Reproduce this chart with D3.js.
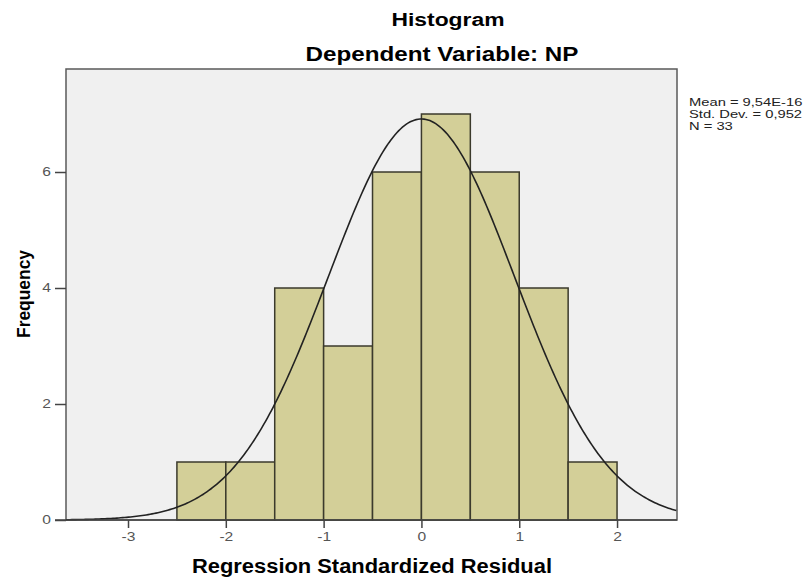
<!DOCTYPE html>
<html>
<head>
<meta charset="utf-8">
<script src="https://cdn.jsdelivr.net/npm/d3@7"></script>
<style>
  body { margin: 0; background: #fff; }
  text { font-family: "Liberation Sans", Arial, sans-serif; }
</style>
</head>
<body>
<svg width="812" height="578"></svg>
<script>
// bins of the residual histogram (lower edge, upper edge, count)
var binStart = [-2.5, -2, -1.5, -1, -0.5, 0, 0.5, 1, 1.5];
var binEnd   = [-2, -1.5, -1, -0.5, 0, 0.5, 1, 1.5, 2];
var counts   = [1, 1, 4, 3, 6, 7, 6, 4, 1];

var xTicks = [-3, -2, -1, 0, 1, 2];
var yTicks = [0, 2, 4, 6];

var mean = 9.54e-16, sd = 0.952, n = 33, binWidth = 0.5;
var statLines = ["Mean = 9,54E-16", "Std. Dev. = 0,952", "N = 33"];

var svg = d3.select("svg"),
    margin = {top: 69, right: 135, bottom: 58, left: 66},
    w = +svg.attr("width") - margin.left - margin.right,
    h = +svg.attr("height") - margin.top - margin.bottom;

var x = d3.scaleLinear().domain([-3.634, 2.613]).range([0, w]);
var y = d3.scaleLinear().domain([0, 7.776]).range([h, 0]);

// the source picture is stretched sideways, so widen text the same way
function widen(sel, f) {
	sel.each(function() {
		var len = this.getComputedTextLength();
		d3.select(this).attr("textLength", len * f).attr("lengthAdjust", "spacingAndGlyphs");
	});
}

var g = svg.append("g").attr("transform", "translate(" + margin.left + "," + margin.top + ")");

g.append("rect")
	.attr("width", w).attr("height", h)
	.attr("fill", "#f0f0f0")
	.attr("stroke", "#5a5a5a").attr("stroke-width", 1.5);

g.selectAll(".bar")
	.data(counts)
	.enter().append("rect")
	.attr("class", "bar")
	.attr("x", function(d, i) { return x(binStart[i]); })
	.attr("width", function(d, i) { return x(binEnd[i]) - x(binStart[i]); })
	.attr("y", function(d) { return y(d); })
	.attr("height", function(d) { return h - y(d); })
	.attr("fill", "#d3cf98")
	.attr("stroke", "#3b3a2c").attr("stroke-width", 1.5);

// normal curve from the stated mean / sd / N
var curvePts = d3.range(x.domain()[0], x.domain()[1] + 0.001, 0.02).map(function(v) {
	var z = (v - mean) / sd;
	return {x: v, y: n * binWidth * Math.exp(-0.5 * z * z) / (sd * Math.sqrt(2 * Math.PI))};
});
var line = d3.line()
	.x(function(d) { return x(d.x); })
	.y(function(d) { return y(d.y); });
g.append("path")
	.attr("d", line(curvePts))
	.attr("fill", "none")
	.attr("stroke", "#222").attr("stroke-width", 1.6);

// axes
var fmt = function(d) { return String(d); };
var xAxis = g.append("g")
	.attr("transform", "translate(0," + h + ")")
	.call(d3.axisBottom(x).tickValues(xTicks).tickFormat(fmt).tickSize(8).tickPadding(4));
var yAxis = g.append("g")
	.call(d3.axisLeft(y).tickValues(yTicks).tickFormat(fmt).tickSize(11).tickPadding(4));
[xAxis, yAxis].forEach(function(a) {
	a.select(".domain").remove();
	a.selectAll("line").attr("stroke", "#444").attr("stroke-width", 1.5);
	a.selectAll("text").attr("fill", "#555").style("font-size", "12px");
	widen(a.selectAll("text"), 1.3);
});
// baseline
g.append("line")
	.attr("x1", -11).attr("x2", w)
	.attr("y1", h).attr("y2", h)
	.attr("stroke", "#444").attr("stroke-width", 1.5);

// titles
svg.append("text").attr("x", 448).attr("y", 26)
	.attr("text-anchor", "middle").style("font-size", "18px").style("font-weight", "bold")
	.attr("textLength", 113).attr("lengthAdjust", "spacingAndGlyphs")
	.text("Histogram");
svg.append("text").attr("x", 442).attr("y", 61)
	.attr("text-anchor", "middle").style("font-size", "20px").style("font-weight", "bold")
	.attr("textLength", 273).attr("lengthAdjust", "spacingAndGlyphs")
	.text("Dependent Variable: NP");
svg.append("text").attr("x", 372).attr("y", 573)
	.attr("text-anchor", "middle").style("font-size", "20px").style("font-weight", "bold")
	.attr("textLength", 360).attr("lengthAdjust", "spacingAndGlyphs")
	.text("Regression Standardized Residual");
svg.append("text")
	.attr("transform", "translate(30,294) rotate(-90)")
	.attr("text-anchor", "middle").style("font-size", "18px").style("font-weight", "bold")
	.attr("textLength", 88).attr("lengthAdjust", "spacingAndGlyphs")
	.text("Frequency");

svg.selectAll(".stat")
	.data(statLines)
	.enter().append("text")
	.attr("class", "stat")
	.attr("x", 689)
	.attr("y", function(d, i) { return 106 + i * 11.8; })
	.style("font-size", "11.5px")
	.attr("fill", "#222")
	.text(function(d) { return d; });
widen(svg.selectAll(".stat"), 1.28);
</script>
</body>
</html>
